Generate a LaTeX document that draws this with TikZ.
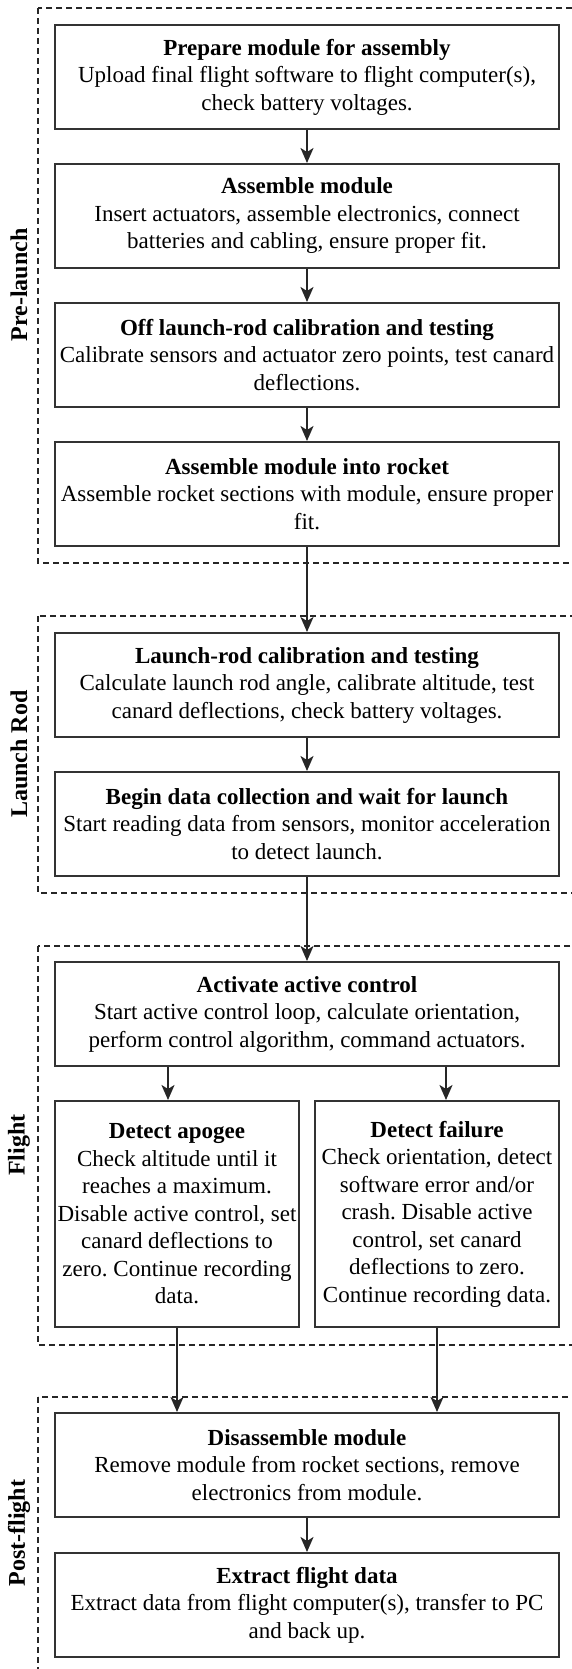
\documentclass[tikz,border=0pt]{standalone}
\usepackage{fontspec}
\setmainfont{Liberation Serif}
\usetikzlibrary{arrows.meta,calc}
\frenchspacing

\begin{document}
\begin{tikzpicture}[x=1pt,y=-1pt,>={Stealth[length=15pt,width=13pt,inset=4pt]},
  block/.style ={rectangle, draw=black!80, line width=2pt, align=center, minimum width=504pt, minimum height=104pt, inner sep=0pt, font=\fontsize{23}{27.5}\selectfont},
  halfblock/.style ={block, minimum width=244pt, minimum height=226pt},
  phase/.style ={draw=black!85, line width=1.3pt, dash pattern=on 6pt off 4pt},
  phaselabel/.style ={rotate=90, font=\fontsize{24}{28}\selectfont\bfseries},
  flow/.style ={->, line width=2pt, draw=black!85}]%
\clip (0,0) rectangle (572,1669);
% phase frames
\draw[phase] (38,8) rectangle (600,563);
\draw[phase] (38,616) rectangle (600,893);
\draw[phase] (38,946) rectangle (600,1345);
\draw[phase] (38,1397) rectangle (600,1720);
\draw (19,285) node[phaselabel] (pre) {Pre-launch};
\draw (19,754) node[phaselabel] (rodlabel) {Launch Rod};
\draw (19,1145) node[phaselabel] (flight) {Flight};
\draw (19,1533) node[phaselabel] (post) {Post-flight};
% steps
\draw (307,77) node[block] (prep) {\textbf{Prepare module for assembly}\\Upload final flight software to flight computer(s),\\check battery voltages.};
\draw (307,216) node[block] (asm) {\textbf{Assemble module}\\Insert actuators, assemble electronics, connect\\batteries and cabling, ensure proper fit.};
\draw (307,355) node[block] (cal) {\textbf{Off launch-rod calibration and testing}\\Calibrate sensors and actuator zero points, test canard\\deflections.};
\draw (307,494) node[block] (rkt) {\textbf{Assemble module into rocket}\\Assemble rocket sections with module, ensure proper\\fit.};
\draw (307,685) node[block] (rod) {\textbf{Launch-rod calibration and testing}\\Calculate launch rod angle, calibrate altitude, test\\canard deflections, check battery voltages.};
\draw (307,824) node[block] (wait) {\textbf{Begin data collection and wait for launch}\\Start reading data from sensors, monitor acceleration\\to detect launch.};
\draw (307,1014) node[block] (act) {\textbf{Activate active control}\\Start active control loop, calculate orientation,\\perform control algorithm, command actuators.};
\draw (177,1214) node[halfblock] (apo) {\textbf{Detect apogee}\\Check altitude until it\\reaches a maximum.\\Disable active control, set\\canard deflections to\\zero. Continue recording\\data.};
\draw (437,1214) node[halfblock] (fail) {\textbf{Detect failure}\\Check orientation, detect\\software error and/or\\crash. Disable active\\control, set canard\\deflections to zero.\\Continue recording data.};
\draw (307,1465) node[block] (dis) {\textbf{Disassemble module}\\Remove module from rocket sections, remove\\electronics from module.};
\draw (307,1605) node[block] (ext) {\textbf{Extract flight data}\\Extract data from flight computer(s), transfer to PC\\and back up.};
% arrows
\draw[flow] (prep)--(asm);
\draw[flow] (asm)--(cal);
\draw[flow] (cal)--(rkt);
\draw[flow] (rkt)--(rod);
\draw[flow] (rod)--(wait);
\draw[flow] (wait)--(act);
\draw[flow] ([xshift=-139pt]act.south)--([xshift=-9pt]apo.north);
\draw[flow] ([xshift=139pt]act.south)--([xshift=9pt]fail.north);
\draw[flow] (apo.south)--(apo.south |- dis.north);
\draw[flow] (fail.south)--(fail.south |- dis.north);
\draw[flow] (dis)--(ext);
\end{tikzpicture}
\end{document}
